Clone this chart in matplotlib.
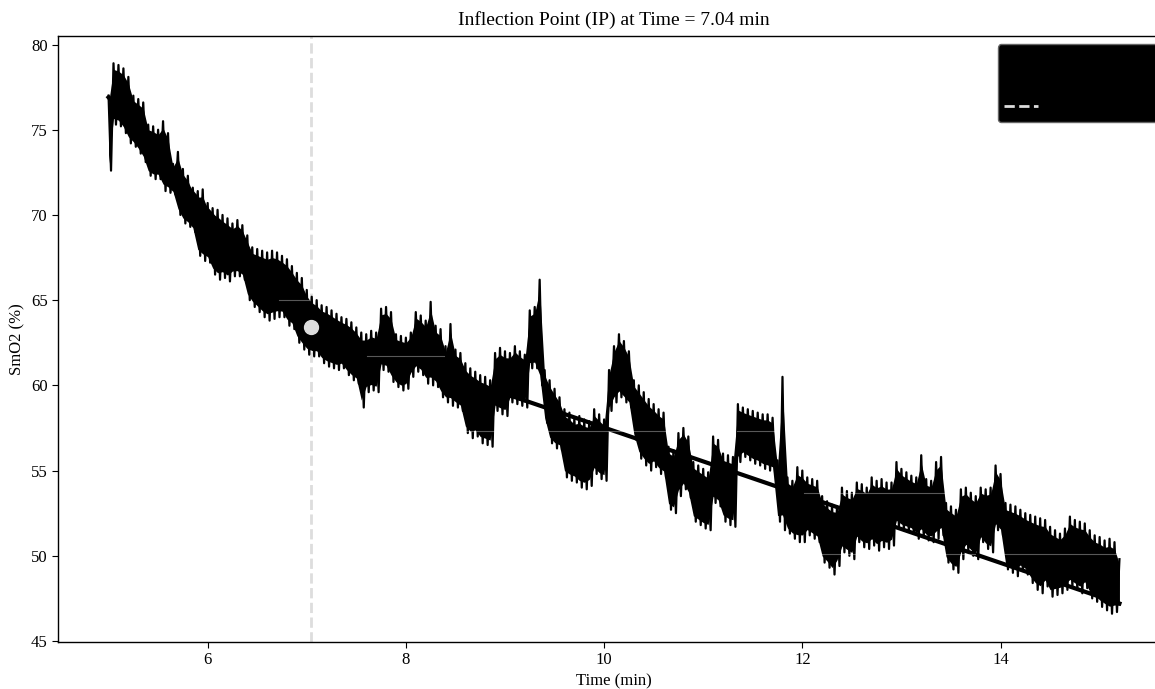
import numpy as np
import matplotlib
matplotlib.use("Agg")
import matplotlib.pyplot as plt

plt.rcParams['font.family'] = ['Liberation Serif', 'DejaVu Serif']
plt.rcParams['font.size'] = 12

# ---- data ----
t_start, t_step = 5.0, 0.05
upper = [77.0, 78.9, 78.8, 78.6, 78.1, 77.0, 76.8, 76.6, 75.3, 75.2,
         75.0, 75.5, 74.8, 73.0, 73.7, 72.7, 72.3, 71.6, 71.4, 71.5,
         70.7, 70.4, 70.3, 70.0, 69.8, 69.5, 69.7, 69.4, 68.8, 68.1,
         68.0, 67.9, 67.8, 67.9, 67.8, 67.6, 67.4, 67.0, 66.6, 66.3,
         65.6, 65.2, 65.0, 64.7, 64.6, 64.4, 64.2, 64.0, 63.9, 63.7,
         63.4, 63.1, 63.0, 63.2, 63.1, 64.5, 64.6, 64.3, 63.0, 62.9,
         62.8, 63.1, 64.3, 64.1, 63.8, 64.9, 63.5, 63.3, 62.3, 63.6,
         62.1, 61.9, 61.3, 61.0, 60.8, 60.6, 60.5, 60.3, 61.9, 62.2,
         62.0, 61.9, 62.3, 62.0, 61.8, 64.4, 64.6, 66.2, 60.9, 60.3,
         59.8, 59.3, 58.6, 58.4, 58.1, 58.2, 58.0, 57.9, 58.6, 58.3,
         58.0, 60.9, 62.3, 63.0, 62.6, 62.0, 60.3, 60.0, 59.6, 59.2,
         58.9, 58.6, 58.4, 56.4, 56.2, 57.2, 57.5, 57.0, 55.5, 55.3,
         55.1, 54.9, 57.0, 56.8, 56.0, 55.9, 55.8, 58.9, 58.7, 58.6,
         58.5, 58.4, 58.3, 58.3, 58.1, 55.6, 60.5, 54.6, 54.4, 55.2,
         55.0, 54.6, 54.5, 54.4, 53.5, 53.2, 53.0, 52.9, 54.0, 53.8,
         53.7, 54.3, 54.2, 54.0, 54.6, 54.4, 54.5, 54.3, 54.3, 55.5,
         55.1, 54.9, 54.7, 54.6, 55.9, 54.5, 54.4, 55.5, 55.8, 53.1,
         52.9, 52.7, 53.9, 54.0, 53.7, 53.5, 54.0, 53.9, 54.0, 55.3,
         54.8, 53.1, 53.0, 52.9, 52.7, 52.5, 52.4, 52.3, 52.2, 52.1,
         51.7, 51.5, 51.3, 51.6, 52.3, 52.1, 52.0, 51.9, 51.5, 51.2,
         51.1, 50.9, 51.0, 50.8, 49.8]
lower = [72.6, 75.3, 75.2, 74.8, 74.2, 74.0, 73.6, 73.1, 72.3, 72.1,
         72.1, 71.4, 71.3, 71.2, 70.0, 69.5, 69.3, 69.0, 67.6, 67.3,
         67.2, 66.5, 66.2, 66.3, 66.1, 66.4, 66.4, 66.2, 65.0, 64.6,
         64.3, 64.0, 63.8, 63.9, 64.0, 64.0, 63.5, 63.3, 62.5, 62.1,
         61.8, 61.7, 61.7, 61.3, 61.1, 61.0, 60.9, 61.0, 60.6, 60.3,
         60.1, 58.7, 59.6, 59.7, 59.6, 60.9, 60.8, 60.2, 59.9, 59.7,
         59.8, 60.5, 60.8, 60.6, 60.1, 60.0, 59.9, 59.3, 59.0, 58.8,
         58.7, 58.5, 57.2, 56.9, 57.0, 56.6, 56.5, 56.4, 58.5, 58.3,
         58.2, 59.0, 58.9, 58.8, 58.7, 61.0, 61.0, 60.0, 57.8, 56.6,
         56.3, 56.2, 54.6, 54.4, 54.3, 54.0, 53.9, 54.1, 54.8, 54.5,
         54.4, 58.5, 59.0, 59.3, 59.0, 58.7, 56.8, 55.7, 55.3, 55.0,
         55.2, 54.8, 54.6, 52.7, 52.5, 53.5, 53.9, 53.4, 52.0, 51.8,
         51.6, 51.5, 53.1, 52.9, 52.0, 51.8, 51.7, 55.5, 55.8, 55.6,
         55.4, 55.3, 55.1, 55.0, 54.9, 52.0, 51.5, 51.3, 51.0, 50.8,
         50.8, 51.2, 51.0, 50.8, 49.6, 49.3, 48.9, 49.4, 50.2, 50.0,
         49.8, 50.8, 50.5, 50.4, 50.6, 50.3, 50.5, 50.4, 50.6, 51.7,
         51.5, 51.4, 51.3, 51.0, 51.1, 50.9, 50.8, 51.0, 51.2, 49.6,
         49.2, 49.0, 49.8, 50.3, 50.0, 49.8, 50.8, 50.4, 50.2, 51.5,
         51.2, 49.2, 49.0, 48.8, 49.1, 48.9, 48.4, 48.0, 47.8, 48.2,
         47.6, 47.7, 47.8, 48.0, 48.2, 48.0, 47.8, 48.1, 47.5, 47.3,
         47.0, 46.8, 46.6, 46.7, 46.8]

# piecewise linear fit (pre-IP and post-IP)
fit_t = [5.0, 7.04, 15.2]
fit_v = [76.9, 63.4, 47.2]

ip_time = 7.04
ip_value = 63.4

# faint light segments visible over the signal
seg_t0 = [6.72, 7.61, 8.48, 11.34, 12.02, 12.20, 13.43, 14.02]
seg_t1 = [7.02, 8.38, 10.64, 11.74, 13.43, 12.53, 13.74, 15.18]
seg_v = [65.0, 61.74, 57.33, 57.33, 53.7, 50.1, 50.1, 50.1]

# ---- build the signal (upper/lower samples interleaved) ----
n = len(upper)
up = np.array(upper)
lo = np.array(lower)
t_grid = t_start + t_step * np.arange(n)
sig_t = np.empty(2 * n)
sig_v = np.empty(2 * n)
sig_t[0::2] = t_grid
sig_t[1::2] = t_grid + t_step / 2
sig_v[0::2] = up
sig_v[1::2] = lo
sig_t = sig_t[:-1]
sig_v = sig_v[:-1]

# dense core of the noisy trace (solid black in the reference)
span = up - lo
core_hi = up - 0.1 * span
core_lo = lo + 0.1 * span

fig = plt.figure(figsize=(11.55, 6.89), dpi=100)
ax = fig.add_axes([58 / 1155, (689 - 641.5) / 689, 1112 / 1155, 605.5 / 689])

ax.plot(fit_t, fit_v, color='black', lw=3, label='Linear Fits', zorder=1.5)
ax.fill_between(t_grid, core_lo, core_hi, color='black', lw=0, zorder=2)
ax.plot(sig_t, sig_v, color='black', lw=1.6, label='SmO2 Data', zorder=2)
for a, b, v in zip(seg_t0, seg_t1, seg_v):
    ax.plot([a, b], [v, v], color='white', lw=0.8, alpha=0.35, zorder=4)
ax.axvline(ip_time, color='#dddddd', ls='--', lw=2, label='Inflection Point', zorder=1)
ax.plot([ip_time], [ip_value], 'o', color='#dddddd', ms=10, zorder=5)

ax.set_xlim(4.49, 15.71)
ax.set_ylim(44.97, 80.5)
ax.set_xticks([6, 8, 10, 12, 14])
ax.set_yticks([45, 50, 55, 60, 65, 70, 75, 80])
ax.set_xlabel('Time (min)', fontsize=12, labelpad=4)
ax.set_ylabel('SmO2 (%)', fontsize=12)
ax.set_title('Inflection Point (IP) at Time = 7.04 min', fontsize=14, pad=8)
ax.tick_params(labelsize=12, direction='out', length=4)

for s in ax.spines.values():
    s.set_color('black')
    s.set_linewidth(1)

handles, labels = ax.get_legend_handles_labels()
order = [labels.index('SmO2 Data'), labels.index('Linear Fits'), labels.index('Inflection Point')]
leg = ax.legend([handles[i] for i in order], [labels[i] for i in order],
                loc='upper right', fontsize=12, facecolor='black',
                edgecolor='#666666', framealpha=1, fancybox=True)
for txt in leg.get_texts():
    txt.set_color('black')

fig.savefig('out.png', dpi=100)
